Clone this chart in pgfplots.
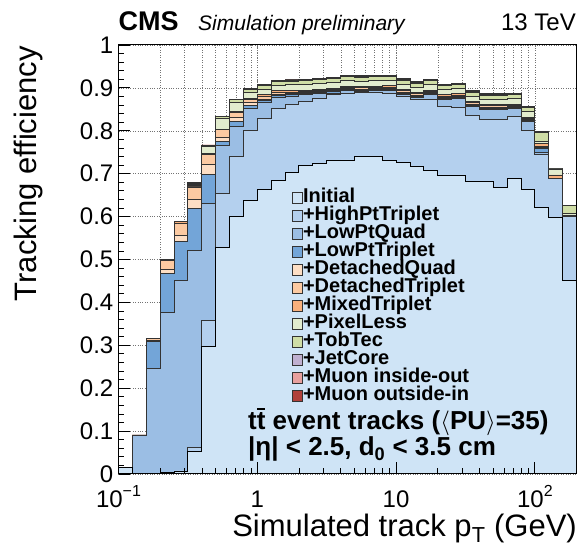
\documentclass[border=0pt]{standalone}
\usepackage{fontspec}
\setmainfont{Liberation Sans}
\usepackage{pgfplots}
\pgfplotsset{compat=1.18}
\usepackage{pgfplotstable}

\definecolor{cInit}{HTML}{CFE4F6}
\definecolor{cHPT}{HTML}{B4D0EE}
\definecolor{cLPQ}{HTML}{9BBEE4}
\definecolor{cLPT}{HTML}{73A5D8}
\definecolor{cDQ}{HTML}{FDDEC4}
\definecolor{cDT}{HTML}{FCCAA2}
\definecolor{cMT}{HTML}{F8B07C}
\definecolor{cPL}{HTML}{E2ECCE}
\definecolor{cTT}{HTML}{D0DEA6}
\definecolor{cJC}{HTML}{C0B0D0}
\definecolor{cMIO}{HTML}{E8A09E}
\definecolor{cMOI}{HTML}{B0403A}

\pgfplotsset{
  layers/gridbelow/.define layer set={axis background,axis grid,main,axis ticks,axis lines,axis tick labels,axis descriptions,axis foreground}{/pgfplots/layers/standard},
}

\newcommand{\tsup}[1]{\raisebox{0.45em}{\fontsize{16bp}{16bp}\selectfont #1}}
\newcommand{\tbar}{\ooalign{t\cr\hidewidth\rule[0.78em]{0.32em}{0.08em}\hidewidth\cr}}

% cumulative efficiency after each iteration, one row per pT bin (left edge)
\pgfplotstableread{
x I H Q T DQ DT MT PL TT JC MIO MOI
0.1 0.016 0.016 0.016 0.016 0.016 0.016 0.016 0.016 0.016 0.016 0.016 0.016
0.125893 0 0 0.091 0.091 0.091 0.091 0.091 0.091 0.091 0.091 0.091 0.091
0.158489 0 0 0.247 0.310 0.311 0.315 0.317 0.317 0.317 0.317 0.317 0.317
0.199526 0.003 0.003 0.376 0.468 0.476 0.497 0.499 0.499 0.499 0.499 0.499 0.499
0.251189 0.007 0.007 0.452 0.543 0.556 0.585 0.588 0.588 0.588 0.588 0.588 0.588
0.316228 0.052 0.061 0.522 0.619 0.640 0.669 0.670 0.672 0.675 0.677 0.678 0.679
0.398107 0.298 0.357 0.631 0.699 0.722 0.745 0.747 0.764 0.766 0.766 0.767 0.767
0.501187 0.528 0.653 0.766 0.774 0.785 0.802 0.804 0.829 0.833 0.833 0.834 0.834
0.630957 0.600 0.741 0.811 0.821 0.832 0.843 0.845 0.865 0.873 0.873 0.874 0.874
0.794328 0.637 0.800 0.852 0.859 0.866 0.873 0.875 0.890 0.897 0.898 0.899 0.899
1 0.663 0.829 0.866 0.870 0.873 0.879 0.884 0.897 0.906 0.907 0.9085 0.909
1.258925 0.685 0.851 0.878 0.882 0.884 0.889 0.893 0.906 0.915 0.916 0.9175 0.918
1.584893 0.703 0.862 0.880 0.884 0.886 0.890 0.894 0.907 0.916 0.917 0.9185 0.919
1.995262 0.719 0.868 0.884 0.887 0.889 0.892 0.895 0.908 0.917 0.918 0.9195 0.920
2.511886 0.724 0.876 0.886 0.889 0.891 0.894 0.897 0.910 0.919 0.920 0.9215 0.922
3.162278 0.730 0.884 0.888 0.891 0.893 0.896 0.899 0.912 0.921 0.922 0.9235 0.924
3.981072 0.732 0.888 0.893 0.896 0.898 0.901 0.904 0.917 0.926 0.927 0.9285 0.929
5.011872 0.740 0.889 0.892 0.895 0.897 0.900 0.903 0.916 0.925 0.926 0.9275 0.928
6.309573 0.740 0.889 0.893 0.896 0.898 0.901 0.904 0.917 0.926 0.927 0.9285 0.929
7.943282 0.730 0.888 0.894 0.897 0.899 0.902 0.905 0.918 0.927 0.928 0.9295 0.930
10 0.726 0.880 0.885 0.888 0.890 0.893 0.896 0.909 0.918 0.919 0.9205 0.921
12.58925 0.716 0.872 0.878 0.881 0.883 0.886 0.889 0.902 0.911 0.912 0.9135 0.914
15.84893 0.707 0.874 0.884 0.887 0.889 0.892 0.895 0.908 0.917 0.918 0.9195 0.920
19.95262 0.697 0.856 0.873 0.876 0.878 0.881 0.884 0.897 0.906 0.907 0.9085 0.909
25.11886 0.697 0.855 0.875 0.878 0.880 0.883 0.886 0.899 0.908 0.909 0.9105 0.911
31.62278 0.681 0.836 0.857 0.860 0.862 0.865 0.868 0.881 0.890 0.891 0.8925 0.893
39.81072 0.682 0.826 0.850 0.853 0.855 0.858 0.861 0.874 0.883 0.884 0.8855 0.886
50.11872 0.668 0.826 0.850 0.853 0.855 0.858 0.861 0.874 0.883 0.884 0.8855 0.886
63.09573 0.689 0.833 0.851 0.854 0.856 0.859 0.862 0.875 0.884 0.885 0.8865 0.887
79.43282 0.664 0.800 0.821 0.824 0.826 0.829 0.832 0.845 0.854 0.855 0.8565 0.857
100 0.621 0.745 0.750 0.758 0.761 0.763 0.771 0.776 0.795 0.796 0.797 0.798
125.8925 0.598 0.689 0.689 0.689 0.689 0.689 0.697 0.711 0.712 0.712 0.712 0.712
158.4893 0.452 0.600 0.600 0.600 0.600 0.600 0.602 0.608 0.625 0.625 0.625 0.625
199.5262 0.452 0.600 0.600 0.600 0.600 0.600 0.602 0.608 0.625 0.625 0.625 0.625
}\datatable

\begin{document}
\begin{tikzpicture}
\path (0,0) rectangle (579bp,554bp);
\begin{axis}[
    at={(118.5bp,80bp)}, anchor=south west,
    scale only axis, width=458bp, height=429bp,
    set layers=gridbelow,
    xmode=log, xmin=0.1, xmax=199.5262,
    ymin=0, ymax=1,
    xtick={0.1,1,10,100},
    xticklabels={10\tsup{−1},1,10,10\tsup{2}},
    ytick={0,0.1,0.2,0.3,0.4,0.5,0.6,0.7,0.8,0.9,1},
    yticklabels={0,0.1,0.2,0.3,0.4,0.5,0.6,0.7,0.8,0.9,1},
    minor y tick num=4,
    xmajorgrids, xminorgrids, ymajorgrids,
    grid style={dotted, black!55, line width=0.5bp},
    minor grid style={dotted, black!55, line width=0.5bp},
    major tick length=12bp, minor tick length=6bp,
    tick style={black, line width=0.8bp},
    tick pos=left,
    axis line style={black, line width=1bp},
    ticklabel style={font=\fontsize{24bp}{24bp}\selectfont},
    xticklabel style={inner sep=0pt, text height=18bp, text depth=0pt, yshift=-15bp},
    yticklabel style={inner sep=0pt, xshift=-5bp},
    legend image code/.code={\draw[#1, draw=black!80, line width=0.6bp] (0bp,-5bp) rectangle (10bp,6bp);},
    legend style={at={(0.378,0.664)}, anchor=north west, draw=none, fill=none,
      font=\bfseries\fontsize{20bp}{20bp}\selectfont, inner sep=0pt, row sep=0pt,
      nodes={inner xsep=0.6bp, inner ysep=0.4bp, text height=13.2bp, text depth=4bp}},
    legend cell align=left,
    every axis plot/.append style={const plot mark left, line width=0.9bp, draw=black!80},
]
\addplot[fill=cMOI, forget plot] table[x=x,y=MOI]{\datatable} \closedcycle;
\addplot[fill=cMIO, forget plot] table[x=x,y=MIO]{\datatable} \closedcycle;
\addplot[fill=cJC, forget plot] table[x=x,y=JC]{\datatable} \closedcycle;
\addplot[fill=cTT, forget plot] table[x=x,y=TT]{\datatable} \closedcycle;
\addplot[fill=cPL, forget plot] table[x=x,y=PL]{\datatable} \closedcycle;
\addplot[fill=cMT, forget plot] table[x=x,y=MT]{\datatable} \closedcycle;
\addplot[fill=cDT, forget plot] table[x=x,y=DT]{\datatable} \closedcycle;
\addplot[fill=cDQ, forget plot] table[x=x,y=DQ]{\datatable} \closedcycle;
\addplot[fill=cLPT, forget plot] table[x=x,y=T]{\datatable} \closedcycle;
\addplot[fill=cLPQ, forget plot] table[x=x,y=Q]{\datatable} \closedcycle;
\addplot[fill=cHPT, forget plot] table[x=x,y=H]{\datatable} \closedcycle;
\addplot[fill=cInit, draw=black, forget plot] table[x=x,y=I]{\datatable} \closedcycle;

\addlegendimage{fill=cInit}\addlegendentry{Initial}
\addlegendimage{fill=cHPT}\addlegendentry{+HighPtTriplet}
\addlegendimage{fill=cLPQ}\addlegendentry{+LowPtQuad}
\addlegendimage{fill=cLPT}\addlegendentry{+LowPtTriplet}
\addlegendimage{fill=cDQ}\addlegendentry{+DetachedQuad}
\addlegendimage{fill=cDT}\addlegendentry{+DetachedTriplet}
\addlegendimage{fill=cMT}\addlegendentry{+MixedTriplet}
\addlegendimage{fill=cPL}\addlegendentry{+PixelLess}
\addlegendimage{fill=cTT}\addlegendentry{+TobTec}
\addlegendimage{fill=cJC}\addlegendentry{+JetCore}
\addlegendimage{fill=cMIO}\addlegendentry{+Muon inside-out}
\addlegendimage{fill=cMOI}\addlegendentry{+Muon outside-in}
\end{axis}

\node[anchor=base west, inner sep=0, font=\bfseries\fontsize{27bp}{27bp}\selectfont] at (118.5bp,523bp) {CMS};
\node[anchor=base west, inner sep=0, font=\itshape\fontsize{21bp}{21bp}\selectfont] at (198bp,523bp) {Simulation preliminary};
\node[anchor=base east, inner sep=0, font=\fontsize{24bp}{24bp}\selectfont] at (576bp,523bp) {13 TeV};

\node[anchor=base east, inner sep=0, rotate=90, font=\fontsize{31bp}{31bp}\selectfont] at (36bp,508bp) {Tracking efficiency};
\node[anchor=base east, inner sep=0, font=\fontsize{31bp}{31bp}\selectfont] at (577bp,18bp) {Simulated track p\textsubscript{T} (GeV)};

\node[anchor=base west, inner sep=0, font=\bfseries\fontsize{26bp}{26bp}\selectfont] at (248bp,124bp) {t\tbar\ event tracks ($\langle$PU$\rangle$=35)};
\node[anchor=base west, inner sep=0, font=\bfseries\fontsize{26bp}{26bp}\selectfont] at (248bp,98bp) {|η| < 2.5, d\textsubscript{0} < 3.5 cm};
\end{tikzpicture}
\end{document}
